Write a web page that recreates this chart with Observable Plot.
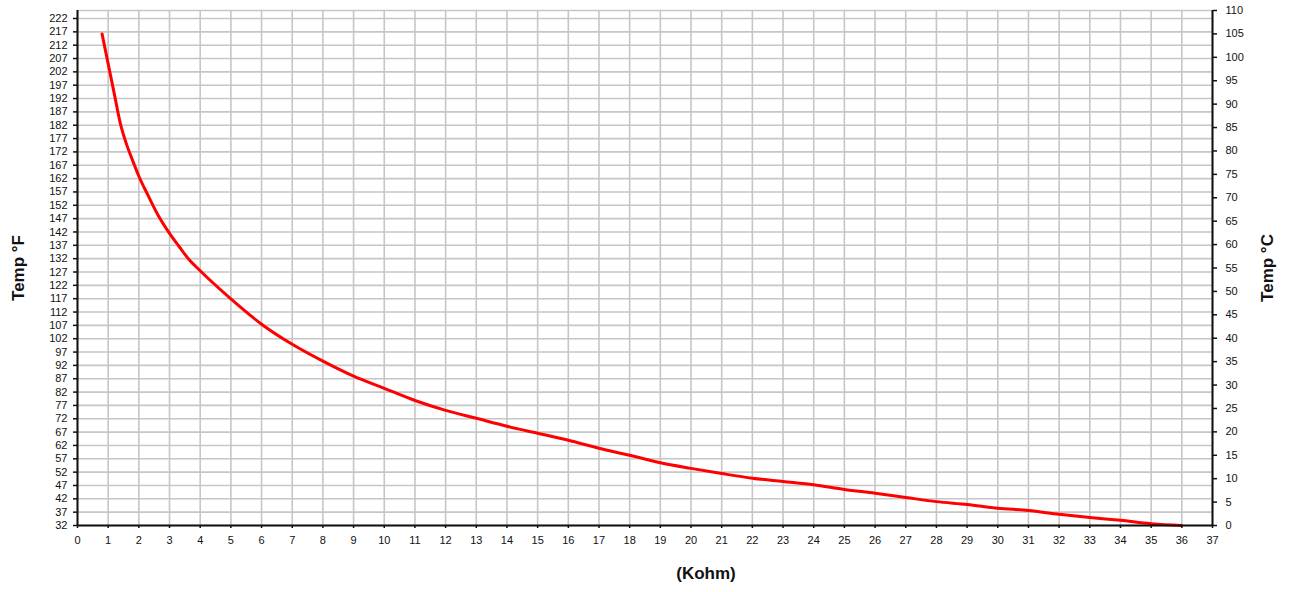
<!DOCTYPE html>
<html>
<head>
<meta charset="utf-8">
<script src="https://cdn.jsdelivr.net/npm/d3@7"></script>
<script src="https://cdn.jsdelivr.net/npm/@observablehq/plot@0.6"></script>
<style>
  html, body { margin: 0; padding: 0; background: #fff; }
  #chart svg { display: block; }
</style>
</head>
<body>
<div id="chart"></div>
<script>
// Resistance (kOhm) and temperature (°C)
const resistance = [0.8, 1.0, 1.2, 1.4, 1.6, 1.8, 2.0, 2.3, 2.6, 3.0, 3.3, 3.6, 4, 5, 6, 7, 8, 9, 10, 11, 12, 13, 14, 15, 16, 17, 18, 19, 20, 21, 22, 23, 24, 25, 26, 27, 28, 29, 30, 31, 32, 33, 34, 35, 36];
const tempC = [105, 98.6, 92.2, 85.8, 81.4, 77.9, 74.6, 70.5, 66.6, 62.4, 59.7, 57.1, 54.4, 48.4, 43, 38.7, 35.1, 31.9, 29.3, 26.7, 24.6, 22.9, 21.2, 19.7, 18.2, 16.5, 15.0, 13.4, 12.2, 11.1, 10.1, 9.4, 8.7, 7.7, 6.9, 6.0, 5.1, 4.5, 3.7, 3.2, 2.4, 1.7, 1.1, 0.4, 0];

// Axis tick labels
const xTicks = [0, 1, 2, 3, 4, 5, 6, 7, 8, 9, 10, 11, 12, 13, 14, 15, 16, 17, 18, 19, 20, 21, 22, 23, 24, 25, 26, 27, 28, 29, 30, 31, 32, 33, 34, 35, 36, 37];
const fTicks = [32, 37, 42, 47, 52, 57, 62, 67, 72, 77, 82, 87, 92, 97, 102, 107, 112, 117, 122, 127, 132, 137, 142, 147, 152, 157, 162, 167, 172, 177, 182, 187, 192, 197, 202, 207, 212, 217, 222];
const cTicks = [0, 5, 10, 15, 20, 25, 30, 35, 40, 45, 50, 55, 60, 65, 70, 75, 80, 85, 90, 95, 100, 105, 110];

// Left (°F) axis range, mapped onto the right (°C) axis range
const fMin = 32, fMax = 225, cMin = 0, cMax = 110;
const fToPos = f => cMin + (f - fMin) * (cMax - cMin) / (fMax - fMin);
const posToF = p => Math.round(fMin + (p - cMin) * (fMax - fMin) / (cMax - cMin));

const data = resistance.map((r, i) => ({r, c: tempC[i]}));
const fPos = fTicks.map(fToPos);

const gridColor = "#c6c6c6";
const font = "'Liberation Sans', Arial, sans-serif";

const chart = Plot.plot({
  width: 1290,
  height: 592,
  marginLeft: 77,
  marginRight: 78,
  marginTop: 10,
  marginBottom: 67,
  style: {fontFamily: font, fontSize: "11px", color: "#111", background: "#fff", overflow: "visible"},
  x: {domain: [0, 37]},
  y: {domain: [cMin, cMax]},
  marks: [
    Plot.ruleX(xTicks, {stroke: gridColor, strokeWidth: 1.6}),
    Plot.ruleY(fPos, {stroke: gridColor, strokeWidth: 1.6}),
    Plot.ruleY([cMax], {stroke: gridColor, strokeWidth: 1.6}),
    Plot.line(data, {x: "r", y: "c", stroke: "#ff0000", strokeWidth: 3, curve: "monotone-x"}),
    Plot.axisY({anchor: "left", ticks: fPos, tickFormat: posToF, tickSize: 4, tickPadding: 6, label: null, strokeWidth: 1.5}),
    Plot.axisY({anchor: "right", ticks: cTicks, tickSize: 4, tickPadding: 9, label: null, strokeWidth: 1.5}),
    Plot.axisX({ticks: xTicks, tickFormat: d => String(d), tickSize: 3, tickPadding: 8, label: null, strokeWidth: 1.5}),
    Plot.ruleX([0], {stroke: "#111", strokeWidth: 2}),
    Plot.ruleX([37], {stroke: "#111", strokeWidth: 2}),
    Plot.ruleY([0], {stroke: "#111", strokeWidth: 2}),
    Plot.text(["Temp °F"], {frameAnchor: "left", textAnchor: "middle", dx: -59, rotate: -90, fontWeight: "bold", fontSize: 17, fill: "#111"}),
    Plot.text(["Temp °C"], {frameAnchor: "right", textAnchor: "middle", dx: 55, rotate: -90, fontWeight: "bold", fontSize: 17, fill: "#111"}),
    Plot.text(["(Kohm)"], {frameAnchor: "bottom", dx: 61, dy: 53, fontWeight: "bold", fontSize: 17, fill: "#111"})
  ]
});
document.getElementById("chart").appendChild(chart);
</script>
</body>
</html>
